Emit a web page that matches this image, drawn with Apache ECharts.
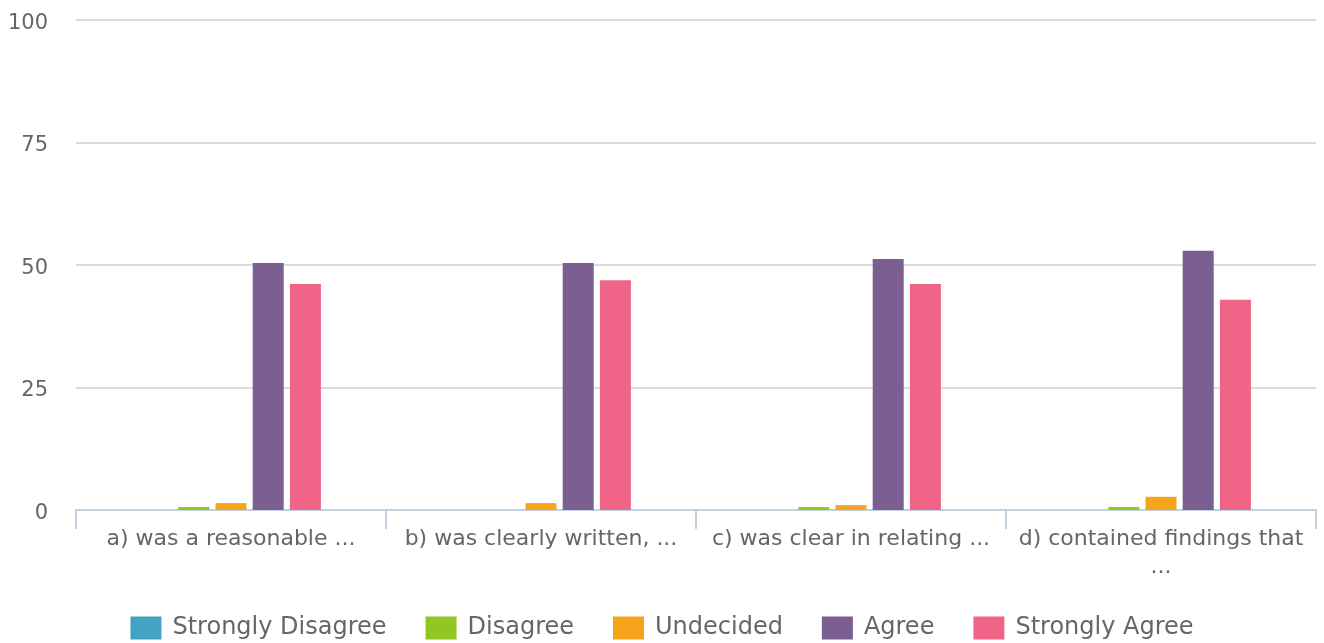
<!DOCTYPE html>
<html>
<head>
<meta charset="utf-8">
<title>Survey responses</title>
<script src="https://cdn.jsdelivr.net/npm/echarts@6/dist/echarts.min.js"></script>
<style>
  html, body { margin: 0; padding: 0; background: #fff; }
  #chart { width: 1324px; height: 643px; }
</style>
</head>
<body>
<div id="chart"></div>
<script>
// data
const categories = [
  'a) was a reasonable ...',
  'b) was clearly written, ...',
  'c) was clear in relating ...',
  'd) contained findings that\n...'
];
const seriesNames = ['Strongly Disagree', 'Disagree', 'Undecided', 'Agree', 'Strongly Agree'];
const stronglyDisagree = [0, 0, 0, 0];
const disagree = [0.6, 0, 0.6, 0.6];
const undecided = [1.4, 1.4, 1.0, 2.7];
const agree = [50.4, 50.4, 51.2, 52.9];
const stronglyAgree = [46.1, 46.9, 46.1, 42.9];
const yTicks = [0, 25, 50, 75, 100];

const colors = ['#42a3c3', '#93c523', '#f5a41c', '#7b5e92', '#f06487'];
const values = [stronglyDisagree, disagree, undecided, agree, stronglyAgree];
const font = 'DejaVu Sans, Verdana, sans-serif';

const chart = echarts.init(document.getElementById('chart'));
chart.setOption({
  animation: false,
  color: colors,
  textStyle: { fontFamily: font },
  grid: { left: 76, right: 8, top: 20, bottom: 133 },
  legend: {
    bottom: -2,
    left: 'center',
    itemWidth: 31,
    itemHeight: 23,
    itemGap: 39,
    icon: 'rect',
    textStyle: { fontSize: 24, color: '#666', fontFamily: font, padding: [0, 0, 0, 6] },
    data: seriesNames
  },
  xAxis: {
    type: 'category',
    data: categories,
    axisLine: { lineStyle: { color: '#c3d2e0', width: 2 } },
    axisTick: { show: true, length: 19, lineStyle: { color: '#c3d2e0', width: 2 } },
    axisLabel: { color: '#666', fontSize: 22, margin: 15, lineHeight: 28, fontFamily: font, interval: 0 }
  },
  yAxis: {
    type: 'value',
    min: yTicks[0],
    max: yTicks[yTicks.length - 1],
    interval: yTicks[1] - yTicks[0],
    axisLine: { show: false },
    axisTick: { show: false },
    axisLabel: {
      color: '#666',
      fontSize: 21,
      margin: 28,
      fontFamily: font,
      formatter: v => '{v|' + v + '}',
      rich: { v: { color: '#666', fontSize: 21, fontFamily: font, padding: [7, 0, 0, 0] } }
    },
    splitLine: { lineStyle: { color: '#dcdcdc', width: 2 } }
  },
  series: seriesNames.map((name, i) => ({
    name: name,
    type: 'bar',
    data: values[i],
    barWidth: 31,
    barGap: '20%'
  }))
});
</script>
</body>
</html>
